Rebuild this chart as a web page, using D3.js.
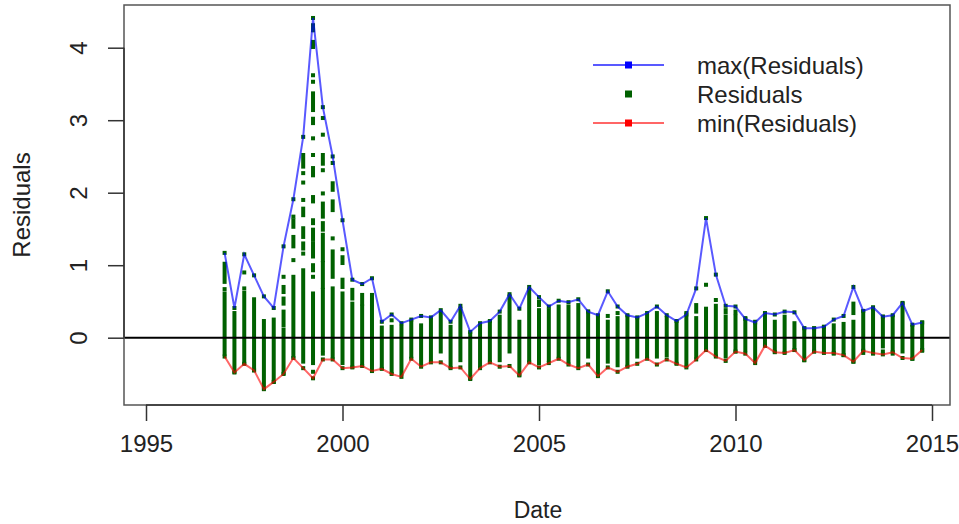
<!DOCTYPE html>
<html>
<head>
<meta charset="utf-8">
<script src="https://cdn.jsdelivr.net/npm/d3@7"></script>
<style>
  body { margin: 0; background: #fff; }
  text { font-family: "Liberation Sans", Arial, sans-serif; fill: #222; }
</style>
</head>
<body>
<svg id="chart" width="959" height="524"></svg>
<script>
// quarterly dates (decimal years)
var quarterDates = [
  1997.00, 1997.25, 1997.50, 1997.75, 1998.00, 1998.25, 1998.50, 1998.75,
  1999.00, 1999.25, 1999.50, 1999.75, 2000.00, 2000.25, 2000.50, 2000.75,
  2001.00, 2001.25, 2001.50, 2001.75, 2002.00, 2002.25, 2002.50, 2002.75,
  2003.00, 2003.25, 2003.50, 2003.75, 2004.00, 2004.25, 2004.50, 2004.75,
  2005.00, 2005.25, 2005.50, 2005.75, 2006.00, 2006.25, 2006.50, 2006.75,
  2007.00, 2007.25, 2007.50, 2007.75, 2008.00, 2008.25, 2008.50, 2008.75,
  2009.00, 2009.25, 2009.50, 2009.75, 2010.00, 2010.25, 2010.50, 2010.75,
  2011.00, 2011.25, 2011.50, 2011.75, 2012.00, 2012.25, 2012.50, 2012.75,
  2013.00, 2013.25, 2013.50, 2013.75, 2014.00, 2014.25, 2014.50, 2014.75
];

// max(Residuals) per quarter
var maxResid = [
  1.17, 0.41, 1.15, 0.86, 0.57, 0.41, 1.26, 1.91, 2.77, 4.41, 3.18, 2.50,
  1.62, 0.80, 0.74, 0.82, 0.22, 0.32, 0.20, 0.25, 0.30, 0.28, 0.38, 0.22,
  0.44, 0.08, 0.20, 0.23, 0.36, 0.60, 0.40, 0.70, 0.56, 0.43, 0.51, 0.49,
  0.53, 0.36, 0.31, 0.64, 0.43, 0.31, 0.28, 0.34, 0.43, 0.31, 0.23, 0.32,
  0.68, 1.65, 0.87, 0.44, 0.43, 0.26, 0.21, 0.34, 0.32, 0.36, 0.35, 0.13,
  0.13, 0.15, 0.25, 0.30, 0.70, 0.37, 0.42, 0.29, 0.31, 0.48, 0.18, 0.21
];

// min(Residuals) per quarter
var minResid = [
  -0.26, -0.48, -0.36, -0.45, -0.71, -0.61, -0.50, -0.28, -0.42, -0.56, -0.30, -0.30,
  -0.42, -0.41, -0.39, -0.46, -0.43, -0.50, -0.54, -0.29, -0.40, -0.34, -0.34, -0.42,
  -0.41, -0.57, -0.42, -0.34, -0.40, -0.39, -0.52, -0.34, -0.41, -0.35, -0.29, -0.37,
  -0.42, -0.37, -0.53, -0.41, -0.47, -0.40, -0.36, -0.29, -0.37, -0.30, -0.36, -0.41,
  -0.30, -0.17, -0.26, -0.32, -0.19, -0.22, -0.35, -0.11, -0.20, -0.21, -0.17, -0.31,
  -0.19, -0.21, -0.21, -0.24, -0.33, -0.18, -0.21, -0.23, -0.20, -0.28, -0.29, -0.17
];

// dense run of residuals per quarter [low, high]
var residCore = [
  [-0.22, 0.61], [-0.47, 0.34], [-0.35, 0.62], [-0.45, 0.53], [-0.70, 0.23], [-0.61, 0.25],
  [-0.49, 0.11], [-0.26, 0.84], [-0.33, 0.93], [-0.35, 0.61], [-0.17, 0.66], [-0.26, 0.68],
  [-0.35, 0.61], [-0.40, 0.47], [-0.38, 0.43], [-0.45, 0.43], [-0.42, 0.14], [-0.47, 0.15],
  [-0.49, 0.15], [-0.26, 0.22], [-0.35, 0.17], [-0.31, 0.24], [-0.19, 0.34], [-0.40, 0.15],
  [-0.31, 0.40], [-0.56, 0.06], [-0.38, 0.16], [-0.31, 0.22], [-0.31, 0.29], [-0.19, 0.57],
  [-0.51, 0.22], [-0.31, 0.66], [-0.35, 0.38], [-0.31, 0.38], [-0.26, 0.43], [-0.33, 0.43],
  [-0.38, 0.45], [-0.26, 0.36], [-0.51, 0.27], [-0.33, 0.22], [-0.38, 0.27], [-0.38, 0.29],
  [-0.26, 0.27], [-0.26, 0.29], [-0.26, 0.34], [-0.24, 0.27], [-0.35, 0.22], [-0.38, 0.34],
  [-0.26, 0.27], [-0.17, 0.40], [-0.24, 0.44], [-0.26, 0.29], [-0.19, 0.29], [-0.17, 0.27],
  [-0.31, 0.22], [-0.11, 0.33], [-0.19, 0.22], [-0.19, 0.29], [-0.17, 0.20], [-0.31, 0.13],
  [-0.19, 0.13], [-0.19, 0.15], [-0.22, 0.17], [-0.24, 0.19], [-0.33, 0.22], [-0.21, 0.36],
  [-0.22, 0.38], [-0.12, 0.29], [-0.22, 0.29], [-0.19, 0.47], [-0.29, 0.15], [-0.18, 0.21]
];

// scattered residuals away from the dense run: [quarter index, low, high]
var residExtra = [
  [0, 0.77, 1.02], [0, 0.67, 0.67],
  [2, 0.90, 0.90], [2, 0.68, 0.68],
  [6, 0.17, 0.36], [6, 0.47, 0.54], [6, 0.63, 0.70], [6, 0.84, 0.84],
  [7, 1.07, 1.07], [7, 1.26, 1.39], [7, 1.53, 1.62], [7, 1.67, 1.67],
  [8, 1.16, 1.16], [8, 1.23, 1.30], [8, 1.39, 1.51], [8, 1.69, 1.78], [8, 1.90, 1.90],
  [8, 2.14, 2.14], [8, 2.27, 2.27], [8, 2.36, 2.52],
  [9, 0.84, 0.84], [9, 0.93, 1.00], [9, 1.12, 1.30], [9, 1.35, 1.49], [9, 1.58, 1.62],
  [9, 1.88, 1.94], [9, 2.24, 2.34], [9, 2.52, 2.52], [9, 2.75, 2.75], [9, 2.96, 3.02],
  [9, 3.14, 3.37], [9, 3.53, 3.53], [9, 3.62, 3.62], [9, 4.01, 4.08], [9, 4.24, 4.31],
  [9, -0.47, -0.47],
  [10, 0.70, 1.03], [10, 1.07, 1.42], [10, 1.49, 1.58], [10, 1.67, 1.85], [10, 1.99, 1.99],
  [10, 2.31, 2.31], [10, 2.40, 2.52], [10, 2.80, 2.80], [10, 3.03, 3.03], [10, -0.22, -0.22],
  [11, 0.84, 1.19], [11, 1.37, 1.37], [11, 1.76, 1.88], [11, 2.04, 2.13], [11, 2.41, 2.41],
  [12, 0.70, 0.80], [12, 1.03, 1.11], [12, 1.22, 1.22],
  [13, 0.54, 0.66], [14, 0.47, 0.59], [15, 0.47, 0.59], [17, 0.24, 0.24],
  [32, 0.45, 0.50], [39, 0.30, 0.30], [40, 0.34, 0.34],
  [48, 0.36, 0.45], [49, 0.73, 0.73], [50, 0.52, 0.52], [51, 0.35, 0.38], [52, 0.34, 0.36],
  [64, 0.34, 0.47], [66, 0.40, 0.40], [67, -0.19, -0.19]
];

var xTicks = [1995, 2000, 2005, 2010, 2015];
var yTicks = [0, 1, 2, 3, 4];

var svg = d3.select("#chart");
var box = { left: 124, right: 950, top: 5, bottom: 405 };

var x = d3.scaleLinear().domain([1995, 2015]).range([146, 932]);
var y = d3.scaleLinear().domain([0, 4]).range([337.7, 47.7]);

var green = "#006000";
var sq = 4;

// residual runs
svg.append("g").selectAll("rect")
  .data(residCore)
  .join("rect")
  .attr("x", function (d, i) { return x(quarterDates[i]) - sq / 2; })
  .attr("y", function (d) { return y(d[1]) - sq / 2; })
  .attr("width", sq)
  .attr("height", function (d) { return y(d[0]) - y(d[1]) + sq; })
  .attr("fill", green);

svg.append("g").selectAll("rect")
  .data(residExtra)
  .join("rect")
  .attr("x", function (d) { return x(quarterDates[d[0]]) - sq / 2; })
  .attr("y", function (d) { return y(d[2]) - sq / 2; })
  .attr("width", sq)
  .attr("height", function (d) { return y(d[1]) - y(d[2]) + sq; })
  .attr("fill", green);

// the extremes are residuals too
[maxResid, minResid].forEach(function (arr) {
  svg.append("g").selectAll("rect")
    .data(arr)
    .join("rect")
    .attr("x", function (d, i) { return x(quarterDates[i]) - sq / 2; })
    .attr("y", function (d) { return y(d) - sq / 2; })
    .attr("width", sq)
    .attr("height", sq)
    .attr("fill", green);
});

// zero line
svg.append("line")
  .attr("x1", box.left).attr("x2", box.right)
  .attr("y1", y(0)).attr("y2", y(0))
  .attr("stroke", "#000").attr("stroke-width", 2);

// max / min lines
var line = d3.line()
  .x(function (d, i) { return x(quarterDates[i]); })
  .y(function (d) { return y(d); });

svg.append("path")
  .attr("d", line(maxResid))
  .attr("fill", "none")
  .attr("stroke", "#0000ff")
  .attr("stroke-opacity", 0.65)
  .attr("stroke-width", 2);

svg.append("path")
  .attr("d", line(minResid))
  .attr("fill", "none")
  .attr("stroke", "#ff0000")
  .attr("stroke-opacity", 0.6)
  .attr("stroke-width", 2);

// frame
svg.append("rect")
  .attr("x", box.left).attr("y", box.top)
  .attr("width", box.right - box.left).attr("height", box.bottom - box.top)
  .attr("fill", "none").attr("stroke", "#555").attr("stroke-width", 1.5);

// x axis
var xAxis = svg.append("g").attr("transform", "translate(0," + box.bottom + ")")
  .call(d3.axisBottom(x).tickValues(xTicks).tickFormat(d3.format("d")).tickSize(16).tickPadding(14));
xAxis.select(".domain").attr("stroke", "#333").attr("stroke-width", 1.5)
  .attr("d", "M" + x(1995) + ",0H" + x(2015));
xAxis.selectAll(".tick line").attr("stroke", "#333").attr("stroke-width", 1.5);
xAxis.selectAll("text").attr("font-size", 24).attr("fill", "#222")
  .style("font-family", "'Liberation Sans', Arial, sans-serif");

// y axis
var yAxis = svg.append("g").attr("transform", "translate(" + box.left + ",0)")
  .call(d3.axisLeft(y).tickValues(yTicks).tickFormat(d3.format("d")).tickSize(16).tickPadding(0));
yAxis.select(".domain").attr("stroke", "#333").attr("stroke-width", 1.5)
  .attr("d", "M0," + y(0) + "V" + y(4));
yAxis.selectAll(".tick line").attr("stroke", "#333").attr("stroke-width", 1.5);
yAxis.selectAll("text")
  .attr("font-size", 24).attr("fill", "#222")
  .style("font-family", "'Liberation Sans', Arial, sans-serif")
  .attr("x", null).attr("dy", null)
  .attr("text-anchor", "middle")
  .attr("transform", "translate(-37,0) rotate(-90)")
  .attr("y", 0);

// axis titles
svg.append("text")
  .attr("x", (box.left + box.right) / 2 + 1).attr("y", 518)
  .attr("text-anchor", "middle").attr("font-size", 23)
  .text("Date");
svg.append("text")
  .attr("transform", "translate(30," + 205 + ") rotate(-90)")
  .attr("text-anchor", "middle").attr("font-size", 24)
  .text("Residuals");

// legend
var legendItems = [
  { label: "max(Residuals)", color: "#0000ff", line: true, opacity: 0.65, y: 65 },
  { label: "Residuals", color: green, line: false, y: 94 },
  { label: "min(Residuals)", color: "#ff0000", line: true, opacity: 0.6, y: 123 }
];
var lg = svg.append("g");
legendItems.forEach(function (it) {
  if (it.line) {
    lg.append("line")
      .attr("x1", 593).attr("x2", 664).attr("y1", it.y).attr("y2", it.y)
      .attr("stroke", it.color).attr("stroke-opacity", it.opacity).attr("stroke-width", 2);
  }
  lg.append("rect")
    .attr("x", 628.5 - 3.5).attr("y", it.y - 3.5)
    .attr("width", 7).attr("height", 7)
    .attr("fill", it.color);
  lg.append("text")
    .attr("x", 697).attr("y", it.y + 8.5)
    .attr("font-size", 24)
    .text(it.label);
});
</script>
</body>
</html>
